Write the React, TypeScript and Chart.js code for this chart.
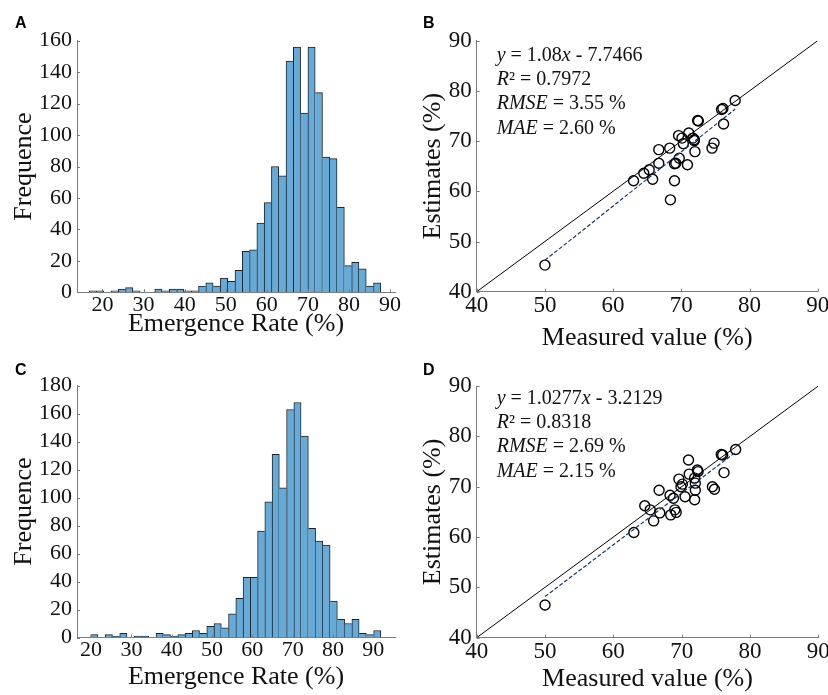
import React, { useEffect, useRef } from "react";
import { Chart, registerables } from "chart.js";
Chart.register(...registerables);

const SERIF = '"Liberation Serif", "Times New Roman", Times, serif';
const SANS = '"Liberation Sans", Arial, Helvetica, sans-serif';
const W = 828;
const H = 695;
const CW = 860; // canvas width (extra room on the right is clipped)

// ---------- Panel A: histogram ----------
const histAStart = 16.75;
const histAWidth = 1.775;
const histACounts = [1, 1, 0, 1, 2, 3, 1, 0, 0, 2, 1, 2, 2, 1, 1, 4, 6, 4, 9, 7, 14, 26, 27, 44, 57, 80, 74, 147, 156, 114, 156, 127, 86, 85, 54, 17, 19, 15, 4, 6];
const histAXTicks = [20, 30, 40, 50, 60, 70, 80, 90];
const histAYTicks = [0, 20, 40, 60, 80, 100, 120, 140, 160];

// ---------- Panel C: histogram ----------
const histCStart = 19.9;
const histCWidth = 1.8;
const histCCounts = [2, 0, 2, 1, 3, 0, 1, 1, 0, 3, 2, 1, 2, 3, 5, 3, 8, 10, 7, 17, 28, 43, 43, 76, 97, 131, 107, 163, 168, 144, 78, 69, 66, 26, 13, 10, 13, 3, 2, 5];
const histCXTicks = [20, 30, 40, 50, 60, 70, 80, 90];
const histCYTicks = [0, 20, 40, 60, 80, 100, 120, 140, 160, 180];

// ---------- Panel B: scatter ----------
const measuredB = [50, 63, 64.5, 65.3, 65.8, 66.7, 66.7, 68.3, 68.4, 69.0, 69.0, 69.2, 69.7, 69.6, 70.3, 70.1, 70.9, 71.1, 71.7, 71.9, 72.0, 72.4, 72.5, 71.9, 74.5, 74.8, 75.9, 76.1, 76.2, 77.9];
const estimatedB = [45.3, 62.1, 63.6, 64.3, 62.4, 65.6, 68.3, 68.6, 58.3, 62.1, 65.5, 65.6, 66.6, 71.1, 69.5, 70.6, 65.3, 71.6, 70.6, 70.1, 67.9, 74.1, 74.0, 70.3, 68.6, 69.6, 76.3, 76.5, 73.4, 78.1];
const slopeB = 1.08;
const interceptB = -7.7466;
const statsB = [
  [["y", true], [" = 1.08", false], ["x", true], [" - 7.7466", false]],
  [["R", true], ["\u00B2", false], [" = 0.7972", false]],
  [["RMSE", true], [" = 3.55 %", false]],
  [["MAE", true], [" = 2.60 %", false]],
];

// ---------- Panel D: scatter ----------
const measuredD = [50, 63.0, 64.6, 65.4, 65.9, 66.7, 66.8, 68.3, 68.4, 68.8, 69.0, 69.2, 69.6, 69.9, 70.1, 70.5, 71.0, 71.1, 71.9, 72.0, 72.0, 71.9, 72.3, 72.4, 74.5, 74.8, 75.8, 76.0, 76.2, 77.9];
const estimatedD = [46.5, 60.9, 66.2, 65.4, 63.2, 69.3, 64.8, 68.3, 64.4, 67.7, 65.4, 64.9, 71.5, 70.0, 70.5, 68.0, 75.3, 72.5, 71.7, 70.7, 69.3, 67.4, 73.3, 73.0, 70.0, 69.5, 76.4, 76.3, 72.8, 77.4];
const slopeD = 1.0277;
const interceptD = -3.2129;
const statsD = [
  [["y", true], [" = 1.0277", false], ["x", true], [" - 3.2129", false]],
  [["R", true], ["\u00B2", false], [" = 0.8318", false]],
  [["RMSE", true], [" = 2.69 %", false]],
  [["MAE", true], [" = 2.15 %", false]],
];

const scatterTicks = [40, 50, 60, 70, 80, 90];

const AXIS = "#7c7c7c";
const TEXT = "#111111";
const BAR_FILL = "#66AAD7";
const BAR_EDGE = "#1f2328";
const HIST_TICK_SIZE = 22;
const SCAT_TICK_SIZE = 23;

function makeDecor(o: any) {
  return {
    id: "decor" + o.letter,
    afterDraw(chart: any) {
      const ctx = chart.ctx;
      const xs = chart.scales.x;
      const ys = chart.scales.y;
      const area = chart.chartArea;
      ctx.save();
      ctx.strokeStyle = AXIS;
      ctx.lineWidth = 1;
      ctx.beginPath();
      xs.ticks.forEach((t: any) => {
        const px = Math.round(xs.getPixelForValue(t.value)) + 0.5;
        ctx.moveTo(px, area.bottom);
        ctx.lineTo(px, area.bottom - 3);
      });
      ys.ticks.forEach((t: any) => {
        const py = Math.round(ys.getPixelForValue(t.value)) + 0.5;
        ctx.moveTo(area.left, py);
        ctx.lineTo(area.left + 3, py);
      });
      ctx.stroke();
      ctx.fillStyle = "#000";
      ctx.textAlign = "left";
      ctx.textBaseline = "alphabetic";
      ctx.font = `bold 16px ${SANS}`;
      ctx.fillText(o.letter, o.letterX, o.letterY);
      if (o.stats) {
        o.stats.forEach((line: any, i: number) => {
          let x = o.statsX;
          const y = o.statsY + i * o.statsDy;
          line.forEach((seg: any) => {
            ctx.font = `${seg[1] ? "italic " : ""}${o.statsSize}px ${SERIF}`;
            ctx.fillStyle = TEXT;
            ctx.fillText(seg[0], x, y);
            x += ctx.measureText(seg[0]).width;
          });
        });
      }
      ctx.restore();
    },
  };
}

function histConfig(p: any) {
  const counts = p.counts;
  const data = counts.map((c: number, i: number) => ({ x: p.start + (i + 0.5) * p.width, y: c }));
  return {
    type: "bar",
    data: {
      datasets: [
        {
          data,
          backgroundColor: BAR_FILL,
          borderColor: BAR_EDGE,
          borderSkipped: false,
          borderWidth: (ctx: any) => {
            const i = ctx.dataIndex;
            const cur = counts[i];
            const prev = counts[i - 1];
            const next = counts[i + 1];
            return {
              top: 1,
              bottom: 0,
              left: prev === undefined || prev <= cur ? 1 : 0,
              right: next === undefined || next < cur ? 1 : 0,
            };
          },
          barPercentage: 1,
          categoryPercentage: 1,
          grouped: false,
        },
      ],
    },
    options: {
      responsive: false,
      animation: false,
      events: [],
      layout: { padding: p.pad },
      plugins: { legend: { display: false }, tooltip: { enabled: false } },
      scales: {
        x: {
          type: "linear",
          min: p.xMin,
          max: p.xMax,
          offset: false,
          afterBuildTicks: (s: any) => {
            s.ticks = p.xTicks.map((v: number) => ({ value: v }));
          },
          afterFit: (s: any) => {
            s.height = p.xHeight;
          },
          grid: { display: false, drawTicks: false },
          border: { display: true, color: AXIS, width: 1 },
          ticks: { font: { family: SERIF, size: HIST_TICK_SIZE }, color: TEXT, padding: 0, maxRotation: 0, autoSkip: false },
          title: { display: true, text: "Emergence Rate (%)", font: { family: SERIF, size: 26 }, color: TEXT, padding: { top: 0, bottom: p.xTitlePad } },
        },
        y: {
          type: "linear",
          min: 0,
          max: p.yTicks[p.yTicks.length - 1],
          afterBuildTicks: (s: any) => {
            s.ticks = p.yTicks.map((v: number) => ({ value: v }));
          },
          afterFit: (s: any) => {
            s.width = p.yWidth;
          },
          grid: { display: false, drawTicks: false },
          border: { display: true, color: AXIS, width: 1 },
          ticks: { font: { family: SERIF, size: HIST_TICK_SIZE }, color: TEXT, padding: 5, autoSkip: false },
          title: { display: true, text: "Frequence", font: { family: SERIF, size: 26 }, color: TEXT, padding: { top: p.yTitlePad, bottom: 0 } },
        },
      },
    },
    plugins: [makeDecor(p.decor)],
  };
}

function scatterConfig(p: any) {
  const pts = p.measured.map((m: number, i: number) => ({ x: m, y: p.estimated[i] }));
  const lo = Math.min(...p.measured);
  const hi = Math.max(...p.measured);
  const fit = [
    { x: lo, y: p.slope * lo + p.intercept },
    { x: hi, y: p.slope * hi + p.intercept },
  ];
  const ticks = scatterTicks;
  return {
    type: "scatter",
    data: {
      datasets: [
        { type: "line", data: [{ x: ticks[0], y: ticks[0] }, { x: ticks[ticks.length - 1], y: ticks[ticks.length - 1] }], borderColor: "#000", borderWidth: 1, pointRadius: 0, fill: false },
        { type: "line", data: fit, borderColor: "#1b356f", borderWidth: 1.2, borderDash: [4, 2], pointRadius: 0, fill: false },
        { type: "scatter", data: pts, pointRadius: 5, pointBorderWidth: 1.4, pointBackgroundColor: "rgba(0,0,0,0)", pointBorderColor: "#000", borderColor: "#000", showLine: false },
      ],
    },
    options: {
      responsive: false,
      animation: false,
      events: [],
      layout: { padding: p.pad },
      plugins: { legend: { display: false }, tooltip: { enabled: false } },
      scales: {
        x: {
          type: "linear",
          min: ticks[0],
          max: ticks[ticks.length - 1],
          afterBuildTicks: (s: any) => {
            s.ticks = ticks.map((v: number) => ({ value: v }));
          },
          afterFit: (s: any) => {
            s.height = p.xHeight;
          },
          grid: { display: false, drawTicks: false },
          border: { display: true, color: AXIS, width: 1 },
          ticks: { font: { family: SERIF, size: SCAT_TICK_SIZE }, color: TEXT, padding: 0, maxRotation: 0, autoSkip: false },
          title: { display: true, text: "Measured value (%)", font: { family: SERIF, size: 26 }, color: TEXT, padding: { top: 0, bottom: p.xTitlePad } },
        },
        y: {
          type: "linear",
          min: ticks[0],
          max: ticks[ticks.length - 1],
          afterBuildTicks: (s: any) => {
            s.ticks = ticks.map((v: number) => ({ value: v }));
          },
          afterFit: (s: any) => {
            s.width = p.yWidth;
          },
          grid: { display: false, drawTicks: false },
          border: { display: true, color: AXIS, width: 1 },
          ticks: { font: { family: SERIF, size: SCAT_TICK_SIZE }, color: TEXT, padding: 5, autoSkip: false },
          title: { display: true, text: "Estimates (%)", font: { family: SERIF, size: 26 }, color: TEXT, padding: { top: p.yTitlePad, bottom: 0 } },
        },
      },
    },
    plugins: [makeDecor(p.decor)],
  };
}

const configs = [
  histConfig({
    counts: histACounts, start: histAStart, width: histAWidth, xMin: 13.8, xMax: 91.2,
    xTicks: histAXTicks, yTicks: histAYTicks,
    pad: { left: 0, top: 40.7, right: CW - 395, bottom: H - 345 },
    xHeight: 345 - 292.3, yWidth: 77, xTitlePad: 5.4, yTitlePad: 8.4,
    decor: { letter: "A", letterX: 15, letterY: 28 },
  }),
  histConfig({
    counts: histCCounts, start: histCStart, width: histCWidth, xMin: 16.5, xMax: 95.4,
    xTicks: histCXTicks, yTicks: histCYTicks,
    pad: { left: 0, top: 385.7, right: CW - 395, bottom: 0 },
    xHeight: H - 637.5, yWidth: 77, xTitlePad: 2.4, yTitlePad: 8.4,
    decor: { letter: "C", letterX: 15, letterY: 375 },
  }),
  scatterConfig({
    measured: measuredB, estimated: estimatedB, slope: slopeB, intercept: interceptB,
    pad: { left: 414, top: 40.7, right: CW - 817.7, bottom: H - 355 },
    xHeight: 355 - 291.7, yWidth: 62.7, xTitlePad: 1.4, yTitlePad: 3.4,
    decor: { letter: "B", letterX: 423, letterY: 28, stats: statsB, statsX: 496.7, statsY: 61, statsDy: 24.2, statsSize: 20 },
  }),
  scatterConfig({
    measured: measuredD, estimated: estimatedD, slope: slopeD, intercept: interceptD,
    pad: { left: 414, top: 386, right: CW - 818.3, bottom: 0 },
    xHeight: H - 637.7, yWidth: 62.7, xTitlePad: 0, yTitlePad: 3.4,
    decor: { letter: "D", letterX: 423, letterY: 375, stats: statsD, statsX: 496.7, statsY: 404, statsDy: 24.2, statsSize: 20 },
  }),
];

export default function App() {
  const r0 = useRef<HTMLCanvasElement>(null);
  const r1 = useRef<HTMLCanvasElement>(null);
  const r2 = useRef<HTMLCanvasElement>(null);
  const r3 = useRef<HTMLCanvasElement>(null);
  const refs = [r0, r1, r2, r3];
  useEffect(() => {
    const charts = configs.map((cfg, i) => new Chart(refs[i].current as HTMLCanvasElement, cfg as any));
    return () => charts.forEach((c) => c.destroy());
  }, []);
  return (
    <div style={{ position: "absolute", left: 0, top: 0, width: W, height: H, background: "#fff", overflow: "hidden" }}>
      {refs.map((r, i) => (
        <canvas key={i} ref={r} width={CW} height={H} style={{ position: "absolute", left: 0, top: 0, width: CW, height: H }} />
      ))}
    </div>
  );
}
